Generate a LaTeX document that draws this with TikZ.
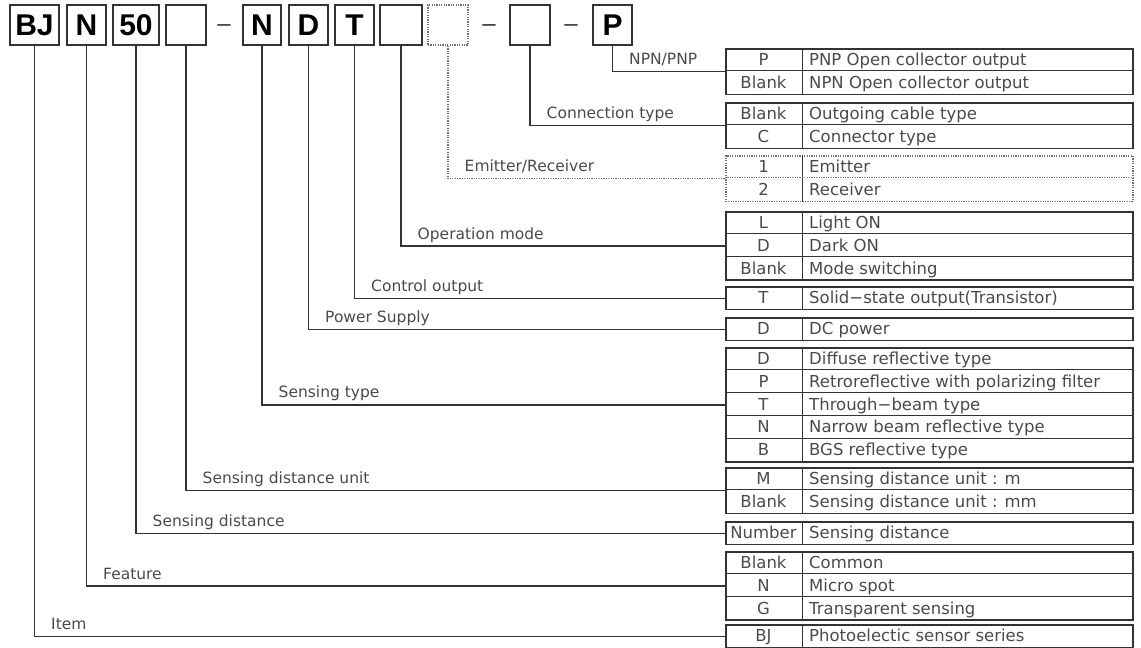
\documentclass[tikz,border=0pt]{standalone}
\usepackage{fontspec}
\setmainfont{DejaVu Sans}
\newfontfamily\codefont{Liberation Sans}
\definecolor{ink}{HTML}{333333}
\definecolor{txt}{HTML}{4A4A4A}

\begin{document}
\begin{tikzpicture}[x=1pt, y=-1pt,
    conn/.style={draw=ink, line width=1.4pt},
    dotconn/.style={conn, draw=ink!70, dash pattern=on 1.2pt off 1.2pt},
    codebox/.style={
      draw=ink, line width=2pt, inner sep=0pt,
      minimum height=40pt, minimum width=#1,
      font=\codefont\fontsize{30}{30}\selectfont\bfseries
    },
    tabbox/.style={
      draw=ink, line width=1.6pt, inner sep=0pt, anchor=north west,
      minimum width=407pt, minimum height=#1*22.8pt
    },
    cellt/.style={inner sep=0pt, text height=12pt, text depth=0pt,
      text=txt, font=\fontsize{16.5}{16.5}\selectfont},
    lbl/.style={pos=0.5, anchor=base west, xshift=16pt, yshift=7pt,
      inner sep=0pt, text=txt, font=\fontsize{15.5}{15.5}\selectfont}
  ]
  \useasboundingbox (0,0) rectangle (1141,648);

  % code boxes
  \foreach \name/\x/\w/\txt in {bItem/34.5/49pt/BJ, bFeat/86.5/39pt/N,
      bDist/136/46pt/50, bUnit/186/40pt/{}, bType/262/38pt/N,
      bPower/308.5/39pt/D, bOut/354.5/39pt/T, bMode/401/42pt/{},
      bConn/530/40pt/{}, bNpn/612.5/39pt/P} {
    \node[codebox=\w] (\name) at (\x,25) {\txt};
  }
  \node[codebox=40pt, draw=ink!70, dash pattern=on 1.2pt off 1.2pt] (bER) at (448,25) {};
  \foreach \name/\x in {dashA/224, dashB/489, dashC/571} {
    \node[font=\codefont\fontsize{24}{24}\selectfont, text=ink] (\name) at (\x,28) {–};
  }

  % tables
  \foreach \t/\top/\n in {t1/48/2, t2/102/2, t4/211/3, t5/286/1, t6/317/1,
      t7/347/5, t8/467/2, t9/521/1, t10/551/3, t11/624/1} {
    \node[tabbox=\n] (\t) at (725,\top) {};
    \draw[ink, line width=1pt] ([xshift=77pt]\t.north west) -- ([xshift=77pt]\t.south west);
  }
  \node[tabbox=2, draw=ink!70, dash pattern=on 1.2pt off 1.2pt] (t3) at (725,155) {};
  \draw[ink, line width=1pt] ([xshift=77pt]t3.north west) -- ([xshift=77pt]t3.south west);
  \draw[ink!70, line width=1pt, dash pattern=on 1.2pt off 1.2pt]
    ([yshift=-22.8pt]t3.north west) -- ([yshift=-22.8pt]t3.north east);
  \foreach \t/\k in {t1/1, t2/1, t4/1, t4/2, t7/1, t7/2, t7/3, t7/4, t8/1, t10/1, t10/2} {
    \draw[ink, line width=1pt] ([yshift=-\k*22.8pt]\t.north west) -- ([yshift=-\k*22.8pt]\t.north east);
  }

  % table entries
  \foreach \t/\k/\c/\d in {
      t1/1/P/PNP Open collector output, t1/2/Blank/NPN Open collector output,
      t2/1/Blank/Outgoing cable type, t2/2/C/Connector type,
      t3/1/1/Emitter, t3/2/2/Receiver,
      t4/1/L/Light ON, t4/2/D/Dark ON, t4/3/Blank/Mode switching,
      t5/1/T/Solid−state output(Transistor),
      t6/1/D/DC power,
      t7/1/D/Diffuse reflective type, t7/2/P/Retroreflective with polarizing filter,
      t7/3/T/Through−beam type, t7/4/N/Narrow beam reflective type,
      t7/5/B/BGS reflective type,
      t8/1/M/Sensing distance unit : m, t8/2/Blank/Sensing distance unit : mm,
      t9/1/Number/Sensing distance,
      t10/1/Blank/Common, t10/2/N/Micro spot, t10/3/G/Transparent sensing,
      t11/1/BJ/Photoelectic sensor series} {
    \node[cellt] (\t-c\k) at ([xshift=38.5pt, yshift={-(\k-0.5)*22.8pt}]\t.north west) {\c};
    \node[cellt, anchor=west] (\t-d\k) at ([xshift=84pt, yshift={-(\k-0.5)*22.8pt}]\t.north west) {\d};
  }

  % connectors
  \foreach \b/\t/\txt in {bNpn/t1/{NPN/PNP}, bConn/t2/Connection type,
      bMode/t4/Operation mode, bOut/t5/Control output, bPower/t6/Power Supply,
      bType/t7/Sensing type, bUnit/t8/Sensing distance unit,
      bDist/t9/Sensing distance, bFeat/t10/Feature, bItem/t11/Item} {
    \draw[conn] (\b.south) |- node[lbl] (\t-lbl) {\txt} (\t.west);
  }
  \draw[dotconn] (bER.south) |- node[lbl] (t3-lbl) {Emitter/Receiver} (t3.west);
\end{tikzpicture}
\end{document}
